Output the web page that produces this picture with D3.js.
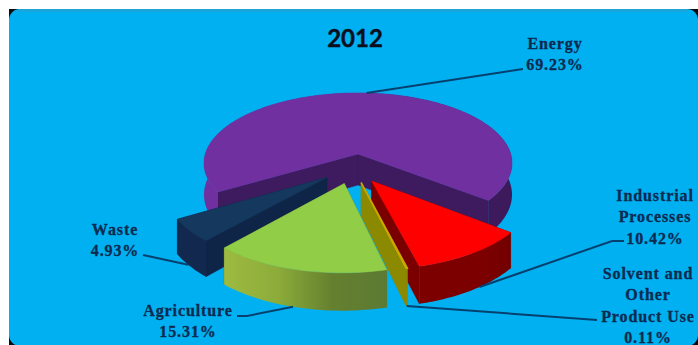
<!DOCTYPE html>
<html>
<head>
<meta charset="utf-8">
<script src="https://cdn.jsdelivr.net/npm/d3@7"></script>
<style>
html,body{margin:0;padding:0;background:#fff;overflow:hidden}
svg{display:block}
</style>
</head>
<body>
<svg id="chart" width="698" height="345"></svg>
<script>
// Emission shares for 2012, in percent
const title = "2012";
const categories = ["Energy", "Industrial Processes", "Solvent and Other Product Use", "Agriculture", "Waste"];
const shares = [69.23, 10.42, 0.11, 15.31, 4.93];
const labelLines = [["Energy"], ["Industrial", "Processes"], ["Solvent and", "Other", "Product Use"], ["Agriculture"], ["Waste"]];
const topColors = ["#7030a0", "#ff0000", "#c9a800", "#92cd48", "#15385f"];
const wallColors = ["#3e1a5e", "#7a0000", "#8b8900", "#5f7a30", "#0f2547"];
const rimStops = [
  ["#7030a0", "#7030a0", "#3c1a5c", "#3c1a5c"],
  ["#7d0000", "#7d0000", "#7d0000", "#720000"],
  ["#8b8900", "#8b8900", "#8b8900", "#8b8900"],
  ["#9dbb40", "#8cab3a", "#64802f", "#5c7a33"],
  ["#12284f", "#12284f", "#12284f", "#12284f"]
];

// Geometry of the tilted pie
const W = 698, H = 345;
const cx = 358, cy = 154;
const R = 152.7, tilt = 0.452, persp = 0.13, depth = 31;
const firstAngle = 239 * Math.PI / 180;
// How far each slice is pulled away from the centre (ground plane units)
const pull = [[0, 0], [13, -57], [3, -60], [-13, -62], [-30, -50]];
// Leader line: fraction along the slice rim where it starts, and where it ends next to the label
const leaders = [
  { along: 0.5, low: 0, via: [[523, 69]] },
  { along: 0.42, low: 1, via: [[612, 241], [624, 241]] },
  { along: 0.5, low: 1, via: [[597, 320]] },
  { along: 0.53, low: 1, via: [[247, 316], [237, 316]] },
  { along: 0.55, low: 1, via: [[143, 255]] }
];
// Label block centre and the baseline of its first line
const labelSpots = [[555, 49], [655, 201], [648, 279], [188, 316], [115, 235]];
const lineGap = 21.3;

const svg = d3.select("#chart");
const defs = svg.append("defs");

// Backing plate with rounded blue panel
svg.append("rect").attr("x", 9).attr("y", 9).attr("width", W).attr("height", H).attr("fill", "#0b0b12");
svg.append("rect").attr("x", 9).attr("y", 9).attr("width", 689).attr("height", 337).attr("rx", 11).attr("fill", "#00b0f0");
svg.append("path").attr("d", "M18 10.5H688").attr("stroke", "#1aa6da").attr("stroke-width", 3).attr("fill", "none");

const pie = d3.pie().sort(null).startAngle(firstAngle).endAngle(firstAngle + 2 * Math.PI);
const arcs = pie(shares);

function project(offset, angle, radius, drop) {
  const wx = offset[0] + radius * Math.sin(angle);
  const wz = offset[1] + radius * Math.cos(angle);
  const s = 1 / (1 + persp * wz / R);
  return [cx + wx * s, cy + (-wz * tilt + drop) * s];
}

const pathOf = d3.line();

function sampleAngles(a0, a1) {
  const n = Math.max(2, Math.ceil(Math.abs(a1 - a0) / 0.02));
  return d3.range(n + 1).map(i => a0 + (a1 - a0) * i / n);
}

function drawSlice(i) {
  const d = arcs[i], off = pull[i];
  const g = svg.append("g").attr("class", "slice");
  const angs = sampleAngles(d.startAngle, d.endAngle);
  const topEdge = angs.map(a => project(off, a, R, 0));
  const lowEdge = angs.map(a => project(off, a, R, depth));
  const apexTop = project(off, 0, 0, 0), apexLow = project(off, 0, 0, depth);

  const x0 = d3.min(topEdge, p => p[0]), x1 = d3.max(topEdge, p => p[0]);
  const grad = defs.append("linearGradient").attr("id", "rim" + i)
    .attr("gradientUnits", "userSpaceOnUse")
    .attr("x1", x0).attr("x2", x1).attr("y1", 0).attr("y2", 0);
  rimStops[i].forEach((c, k) => grad.append("stop").attr("offset", k / 3).attr("stop-color", c));

  // Cut faces first, then the outer rim, then the top surface over both
  [topEdge[0], topEdge[topEdge.length - 1]].forEach((corner, k) => {
    const lowCorner = k === 0 ? lowEdge[0] : lowEdge[lowEdge.length - 1];
    g.append("path").attr("d", pathOf([apexTop, corner, lowCorner, apexLow]) + "Z")
      .attr("fill", wallColors[i]).attr("stroke", wallColors[i]).attr("stroke-width", 0.5);
  });
  g.append("path").attr("d", pathOf(topEdge.concat(lowEdge.slice().reverse())) + "Z")
    .attr("fill", `url(#rim${i})`);
  g.append("path").attr("d", pathOf([apexTop].concat(topEdge)) + "Z")
    .attr("fill", topColors[i]).attr("stroke", topColors[i]).attr("stroke-width", i === 2 ? 1.6 : 0.5);
}

// Painted back to front
[0, 4, 3, 1, 2].forEach(drawSlice);

// Leader lines and labels
const ink = "#0b2a50";
arcs.forEach((d, i) => {
  const l = leaders[i];
  const a = d.startAngle + (d.endAngle - d.startAngle) * l.along;
  const start = project(pull[i], a, R, depth * l.low);
  svg.append("path")
    .attr("d", pathOf([start].concat(l.via)))
    .attr("fill", "none").attr("stroke", "#06406f").attr("stroke-width", 2);
});

arcs.forEach((d, i) => {
  const lines = labelLines[i].concat([shares[i].toFixed(2) + "%"]);
  const t = svg.append("text")
    .attr("font-family", "'Liberation Serif', serif")
    .attr("font-weight", "bold").attr("font-size", 16)
    .attr("letter-spacing", 0.9)
    .attr("stroke", ink).attr("stroke-width", 0.3)
    .attr("fill", ink).attr("text-anchor", "middle");
  lines.forEach((s, k) => {
    t.append("tspan").attr("x", labelSpots[i][0])
      .attr("y", labelSpots[i][1] + k * lineGap).text(s);
  });
});

svg.append("text").attr("x", 355).attr("y", 47)
  .attr("text-anchor", "middle")
  .attr("font-family", "Lato, sans-serif").attr("font-weight", "bold").attr("font-size", 24)
  .attr("stroke", "#0a0f1e").attr("stroke-width", 0.4)
  .attr("fill", "#0a0f1e").text(title);
</script>
</body>
</html>
